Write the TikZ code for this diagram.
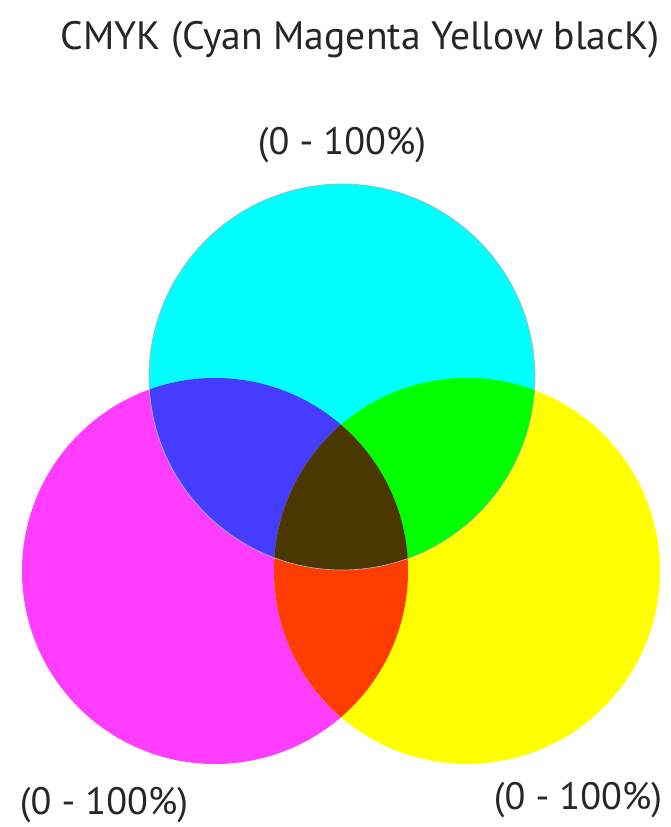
\documentclass[tikz,border=0pt]{standalone}
\usepackage{fontspec}
\setmainfont{PT Sans}
\usetikzlibrary{positioning}

\definecolor{inkcyan}{RGB}{0,255,255}
\definecolor{inkmagenta}{RGB}{255,60,255}
\definecolor{inkyellow}{RGB}{255,255,0}
\definecolor{mixblue}{RGB}{70,60,255}
\definecolor{mixgreen}{RGB}{0,255,0}
\definecolor{mixred}{RGB}{255,60,0}
\definecolor{mixblack}{RGB}{74,56,0}

\begin{document}
\begin{tikzpicture}[
    x=0.03cm, y=-0.03cm, % one unit is one pixel of the reference
    headinglabel/.style={font=\fontsize{33.8}{38}\selectfont, text=black!85}, % Style for the heading
    rangelabel/.style={font=\fontsize{32.6}{37}\selectfont, text=black!85}, % Style for the range labels
    inkedge/.style={line width=0.6pt} % Style for the circle edges
]
    \useasboundingbox (0,0) rectangle (671,827);
    \def\rad{5.79cm} % Radius of each circle

    % Centres of the three circles
    \coordinate (C) at (342, 377); % Cyan
    \coordinate (M) at (215, 571); % Magenta
    \coordinate (Y) at (467, 571); % Yellow

    % Single inks
    \fill[inkmagenta] (M) circle (\rad);
    \fill[inkyellow] (Y) circle (\rad);
    \fill[inkcyan] (C) circle (\rad);

    % Overlaps of two inks
    \begin{scope}
        \clip (C) circle (\rad);
        \fill[mixblue] (M) circle (\rad);
        \fill[mixgreen] (Y) circle (\rad);
    \end{scope}
    \begin{scope}
        \clip (M) circle (\rad);
        \fill[mixred] (Y) circle (\rad);
    \end{scope}

    % Overlap of all three inks
    \begin{scope}
        \clip (C) circle (\rad);
        \clip (M) circle (\rad);
        \fill[mixblack] (Y) circle (\rad);
    \end{scope}

    % Thin edge round the cyan circle
    \draw[inkedge, gray!60] (C) circle (\rad);

    % Labels
    \node[headinglabel] (heading) at (360, 40) {CMYK (Cyan Magenta Yellow blacK)};
    \node[rangelabel] (rangeC) at (342, 145) {(0 - 100\%)};
    \node[rangelabel] (rangeM) at (104, 805) {(0 - 100\%)};
    \node[rangelabel] (rangeY) at (578, 800) {(0 - 100\%)};

\end{tikzpicture}
\end{document}
